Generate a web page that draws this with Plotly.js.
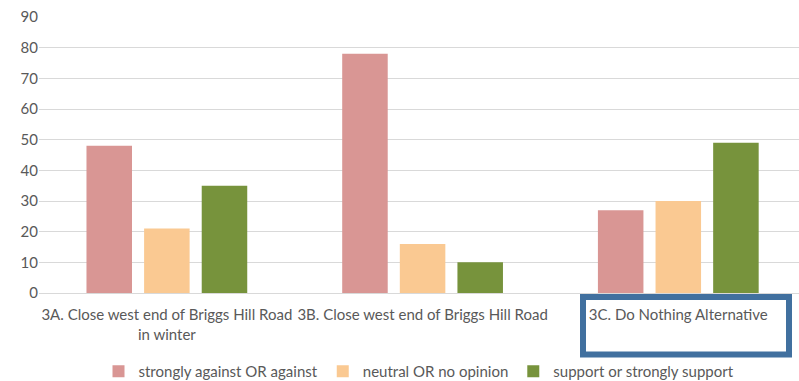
<!DOCTYPE html>
<html>
<head>
<meta charset="utf-8">
<script src="https://cdn.plot.ly/plotly-3.0.1.min.js"></script>
<style>
  html, body { margin: 0; padding: 0; background: #fff; }
  #chart { width: 799px; height: 381px; }
</style>
</head>
<body>
<div id="chart"></div>
<script>
// Survey options (x-axis categories)
const categories = [
  "3A. Close west end of Briggs Hill Road<br>in winter",
  "3B. Close west end of Briggs Hill Road",
  "3C. Do Nothing Alternative"
];

// Response counts per option
const seriesNames = [
  "strongly against OR against",
  "neutral OR no opinion",
  "support or strongly support"
];
const againstValues = [48, 78, 27];
const neutralValues = [21, 16, 30];
const supportValues = [35, 10, 49];

const yTickValues = [0, 10, 20, 30, 40, 50, 60, 70, 80, 90];

const colors = ["#d99694", "#fac992", "#77933c"];
const font = "Lato, 'Open Sans', sans-serif";
const textColor = "#595959";

const traces = [againstValues, neutralValues, supportValues].map((vals, i) => ({
  type: "bar",
  name: seriesNames[i],
  x: categories,
  y: vals,
  marker: { color: colors[i] },
  hoverinfo: "x+y+name"
}));

const layout = {
  width: 799,
  height: 381,
  margin: { l: 39, r: 0, t: 17, b: 88, autoexpand: false },
  paper_bgcolor: "#ffffff",
  plot_bgcolor: "#ffffff",
  barmode: "group",
  bargap: 0.324,
  bargroupgap: 0.21,
  font: { family: font, size: 15, color: textColor },
  showlegend: true,
  legend: {
    orientation: "h",
    x: 0.5,
    xanchor: "center",
    y: -0.225,
    yanchor: "top",
    bgcolor: "rgba(0,0,0,0)",
    font: { family: font, size: 15, color: textColor },
    itemwidth: 30,
    traceorder: "normal"
  },
  xaxis: {
    type: "category",
    range: [-0.5, 2.472],
    showgrid: false,
    showline: false,
    zeroline: false,
    ticks: "",
    tickangle: 0,
    ticklabelstandoff: 11,
    tickfont: { family: font, size: 15, color: textColor },
    automargin: false
  },
  yaxis: {
    range: [0, 90],
    tickvals: yTickValues,
    showgrid: true,
    gridcolor: "#d9d9d9",
    gridwidth: 1,
    zeroline: true,
    zerolinecolor: "#d9d9d9",
    zerolinewidth: 1,
    showline: false,
    ticks: "",
    ticklen: 0,
    tickfont: { family: font, size: 15, color: textColor },
    automargin: false
  },
  shapes: [{
    type: "rect",
    xref: "paper",
    yref: "paper",
    layer: "above",
    x0: (583 - 39) / 760,
    x1: (789 - 39) / 760,
    y0: -(297 - 293) / 276,
    y1: -(354.5 - 293) / 276,
    line: { color: "#41709f", width: 6 },
    fillcolor: "rgba(0,0,0,0)"
  }]
};

Plotly.newPlot("chart", traces, layout, { displayModeBar: false, staticPlot: true });
</script>
</body>
</html>
